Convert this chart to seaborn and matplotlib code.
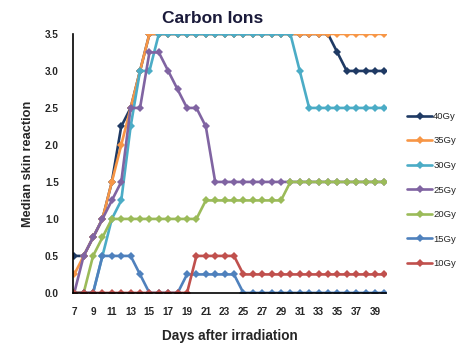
import matplotlib
matplotlib.use("Agg")
import matplotlib.pyplot as plt
import seaborn as sns
import pandas as pd
from matplotlib.lines import Line2D

days = list(range(7, 41))
doses = ["40Gy", "35Gy", "30Gy", "25Gy", "20Gy", "15Gy", "10Gy"]
colors = ["#1F3A64", "#F79646", "#4BACC6", "#8064A2", "#9BBB59", "#4F81BD", "#C0504D"]

gy40 = [0.5, 0.5, 0.75, 1.0, 1.5, 2.25, 2.5, 3.0] + [3.5] * 20 + [3.25] + [3.0] * 5
gy35 = [0.25, 0.5, 0.75, 1.0, 1.5, 2.0, 2.5, 3.0] + [3.5] * 26
gy30 = [0, 0, 0, 0.5, 1.0, 1.25, 2.25, 3.0, 3.0] + [3.5] * 15 + [3.0] + [2.5] * 9
gy25 = [0, 0.5, 0.75, 1.0, 1.25, 1.5, 2.5, 2.5, 3.25, 3.25, 3.0, 2.75, 2.5, 2.5, 2.25] + [1.5] * 19
gy20 = [0, 0, 0.5, 0.75] + [1.0] * 10 + [1.25] * 9 + [1.5] * 11
gy15 = [0, 0, 0] + [0.5] * 4 + [0.25] + [0] * 4 + [0.25] * 6 + [0] * 16
gy10 = [0] * 13 + [0.5] * 5 + [0.25] * 16

series = [gy40, gy35, gy30, gy25, gy20, gy15, gy10]
yticks = [0.0, 0.5, 1.0, 1.5, 2.0, 2.5, 3.0, 3.5]
xticks = list(range(7, 40, 2))

rows = []
for dose, vals in zip(doses, series):
    for d, v in zip(days, vals):
        rows.append({"day": d, "value": v, "dose": dose})
df = pd.DataFrame(rows)

sns.set_style("white")
plt.rcParams["font.family"] = ["Liberation Sans", "DejaVu Sans"]

fig = plt.figure(figsize=(4.67, 3.43), dpi=100)
ax = fig.add_axes([0.156, 0.146, 0.671, 0.755])

sns.lineplot(data=df, x="day", y="value", hue="dose", hue_order=doses,
             palette=colors, marker="D", markersize=3.8, markeredgewidth=0,
             linewidth=1.9, legend=False, ax=ax)

ax.set_xlim(6.85, 40.2)
ax.set_ylim(0, 3.5)
ax.set_xticks(xticks)
ax.set_xticklabels([str(t) for t in xticks], fontsize=7.2, fontweight="bold")
ax.set_yticks(yticks)
ax.set_yticklabels([f"{t:.1f}" for t in yticks], fontsize=7.2, fontweight="bold")
ax.tick_params(axis="x", length=0, pad=10)
ax.tick_params(axis="y", length=0, pad=10)
for s in ["top", "right"]:
    ax.spines[s].set_visible(False)
for s in ["left", "bottom"]:
    ax.spines[s].set_color("black")
    ax.spines[s].set_linewidth(1.2)
ax.set_xlabel("Days after irradiation", fontsize=9.8, fontweight="bold", labelpad=9)
ax.set_ylabel("Median skin reaction", fontsize=9.2, fontweight="bold", labelpad=8)
fig.text(213 / 467, 1 - 23 / 343, "Carbon Ions", fontsize=12.5, fontweight="bold",
         color="#1a1a3a", ha="center", va="baseline")

handles = [Line2D([0], [0], color=c, lw=1.9, marker="D", markersize=3.8,
                  markeredgewidth=0) for c in colors]
fig.legend(handles, doses, loc="upper left", bbox_to_anchor=(0.872, 0.674),
           frameon=False, fontsize=6.8, handlelength=2.6, labelspacing=1.65,
           handletextpad=0.15, borderaxespad=0, borderpad=0)

fig.savefig("out.png", dpi=100)
